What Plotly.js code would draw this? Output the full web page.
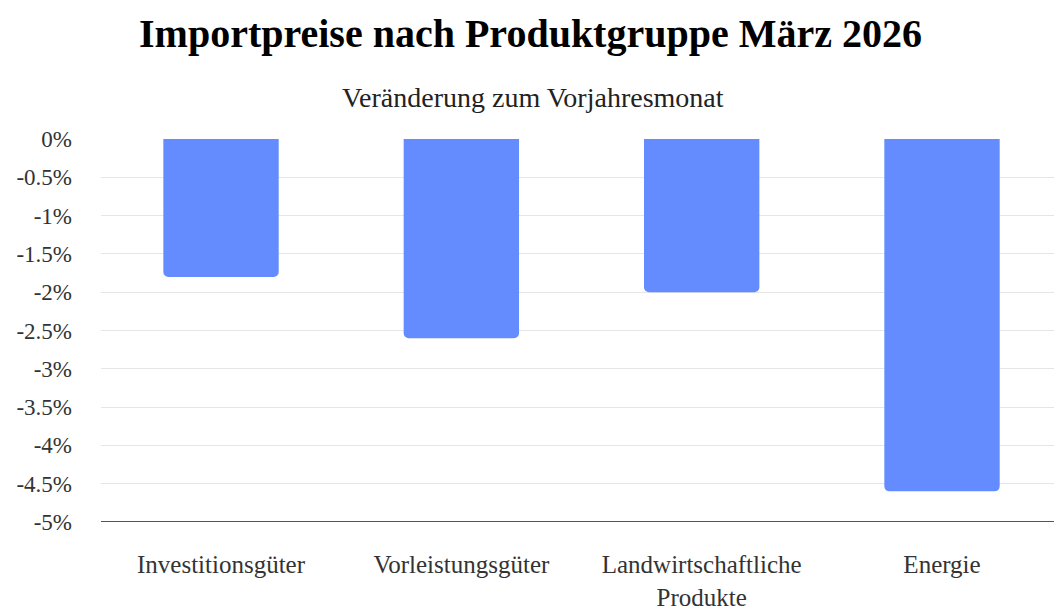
<!DOCTYPE html>
<html>
<head>
<meta charset="utf-8">
<script src="https://cdn.plot.ly/plotly-3.0.1.min.js"></script>
<style>html,body{margin:0;padding:0;background:#fff;}#chart{width:1054px;height:609px;}</style>
</head>
<body>
<div id="chart"></div>
<script>
const categories = ["Investitionsgüter", "Vorleistungsgüter", "Landwirtschaftliche<br>Produkte", "Energie"];
const values = [-1.8, -2.6, -2.0, -4.6];
const tickVals = [0, -0.5, -1, -1.5, -2, -2.5, -3, -3.5, -4, -4.5, -5];
const tickText = ["0%", "-0.5%", "-1%", "-1.5%", "-2%", "-2.5%", "-3%", "-3.5%", "-4%", "-4.5%", "-5%"];

const font = "Liberation Serif, Times New Roman, serif";
Plotly.newPlot("chart", [{
  type: "bar",
  x: [0, 1, 2, 3],
  y: values,
  marker: {color: "#648cff", cornerradius: 5},
  hoverinfo: "none"
}], {
  width: 1054, height: 609,
  margin: {l: 101, r: 0, t: 139, b: 87},
  paper_bgcolor: "#fff", plot_bgcolor: "#fff",
  bargap: 0.52,
  showlegend: false,
  font: {family: font, color: "#333", size: 22},
  xaxis: {
    range: [-0.4994, 3.466],
    tickvals: [0, 1, 2, 3], ticktext: categories,
    showgrid: false, zeroline: false, showline: false, ticks: "",
    tickfont: {family: font, size: 25, color: "#333"},
    ticklabelstandoff: 25
  },
  yaxis: {
    range: [-5, 0],
    tickvals: tickVals, ticktext: tickText,
    showgrid: true, gridcolor: "#e6e6e6", gridwidth: 1,
    zeroline: false, showline: false, ticks: "",
    tickfont: {family: font, size: 23, color: "#333"},
    ticklabelstandoff: 28
  },
  shapes: [{type: "line", xref: "paper", yref: "y", x0: 0, x1: 1, y0: -5, y1: -5, line: {color: "#555", width: 2}}],
  annotations: [
    {text: "<b>Importpreise nach Produktgruppe März 2026</b>", xref: "paper", yref: "paper", x: 0.451, y: 1, yshift: 106, showarrow: false, font: {family: font, size: 40, color: "#000"}, xanchor: "center", yanchor: "middle"},
    {text: "Veränderung zum Vorjahresmonat", xref: "paper", yref: "paper", x: 0.453, y: 1, yshift: 42, showarrow: false, font: {family: font, size: 28, color: "#222"}, xanchor: "center", yanchor: "middle"}
  ]
}, {staticPlot: true});
</script>
</body>
</html>
